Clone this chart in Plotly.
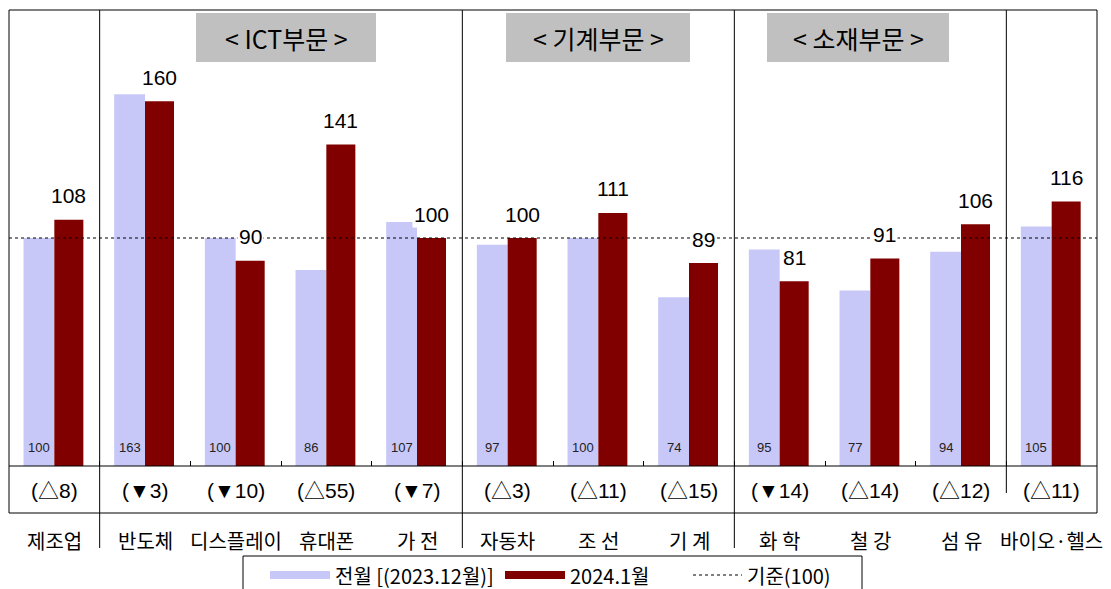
import plotly.graph_objects as go

# ---------------- data ----------------
categories = ["제조업", "반도체", "디스플레이", "휴대폰", "가 전", "자동차",
              "조 선", "기 계", "화 학", "철 강", "섬 유", "바이오·헬스"]
prev_values = [100, 163, 100, 86, 107, 97, 100, 74, 95, 77, 94, 105]   # 전월 (2023.12월)
curr_values = [108, 160, 90, 141, 100, 100, 111, 89, 81, 91, 106, 116]  # 2024.1월
change_labels = ["(△8)", "(▼3)", "(▼10)", "(△55)", "(▼7)", "(△3)",
                 "(△11)", "(△15)", "(▼14)", "(△14)", "(△12)", "(△11)"]
group_titles = ["< ICT부문 >", "< 기계부문 >", "< 소재부문 >"]
baseline_value = 100
legend_names = ["전월 [(2023.12월)]", "2024.1월", "기준(100)"]

# ---------------- style ----------------
# the page body has an 8px margin, so figure coordinates = page coordinates - 8
OFF = 8
W, H = 1111, 589
PLOT_L, PLOT_R, PLOT_T, PLOT_B = 9, 1097, 10, 466      # page pixels
L = PLOT_L - OFF
T = PLOT_T - OFF
R = W - (PLOT_R - OFF)
B = H - (PLOT_B - OFF)
PW, PH = PLOT_R - PLOT_L, PLOT_B - PLOT_T
LIGHT = "#c8c8f8"
DARK = "#800000"
GRAY = "#c0c0c0"
NUM_FONT = "Liberation Sans, Noto Sans CJK KR"
KR_FONT = "Noto Sans CJK KR, Liberation Sans"


def px_x(X):
    return (X - PLOT_L) / PW


def px_y(Y):
    return (PLOT_B - Y) / PH


fig = go.Figure()
fig.add_trace(go.Bar(x=categories, y=prev_values, name=legend_names[0],
                     marker=dict(color=LIGHT, line=dict(width=0)),
                     offset=-0.34, width=0.34, showlegend=False, hoverinfo="x+y"))
fig.add_trace(go.Bar(x=categories, y=curr_values, name=legend_names[1],
                     marker=dict(color=DARK, line=dict(width=0)),
                     offset=0.0, width=0.32, showlegend=False, hoverinfo="x+y"))

shapes = []
annotations = []

# baseline dotted line at 100
shapes.append(dict(type="line", xref="x", yref="y", x0=-0.5, x1=len(categories) - 0.5,
                   y0=baseline_value, y1=baseline_value,
                   line=dict(color="black", width=1, dash="dot"), layer="above"))

# outer frame (plot + table row) and table top line
tb = px_y(513)
shapes.append(dict(type="rect", xref="paper", yref="paper", x0=0, x1=1, y0=tb, y1=1,
                   line=dict(color="black", width=1), fillcolor="rgba(0,0,0,0)",
                   layer="above"))
shapes.append(dict(type="line", xref="paper", yref="paper", x0=0, x1=1, y0=0, y1=0,
                   line=dict(color="black", width=1), layer="above"))

# group separators
for bx, yend in [(0.5, px_y(548)), (4.5, px_y(548)), (7.5, px_y(548)), (10.5, px_y(493))]:
    shapes.append(dict(type="line", xref="x", yref="paper", x0=bx, x1=bx, y0=1, y1=yend,
                       line=dict(color="black", width=1)))

# group title boxes
for (x0, x1), title in zip([(196, 376), (506, 690), (767, 949)], group_titles):
    shapes.append(dict(type="rect", xref="paper", yref="paper",
                       x0=px_x(x0), x1=px_x(x1), y0=px_y(62), y1=px_y(13),
                       fillcolor=GRAY, line=dict(width=0), layer="above"))
    annotations.append(dict(xref="paper", yref="paper", x=px_x((x0 + x1) / 2), y=px_y(38),
                            text=title, showarrow=False, xanchor="center", yanchor="middle",
                            font=dict(family=KR_FONT, size=25, color="black")))

# value labels
for c, pv, cv, ch in zip(categories, prev_values, curr_values, change_labels):
    annotations.append(dict(x=c, y=cv, xref="x", yref="y", text=str(cv), showarrow=False,
                            xanchor="center", yanchor="middle", xshift=14.5, yshift=24,
                            bgcolor="white", borderpad=1,
                            font=dict(family=NUM_FONT, size=21, color="black")))
    annotations.append(dict(x=c, y=0, xref="x", yref="y", text=str(pv), showarrow=False,
                            xanchor="center", yanchor="middle", xshift=-15.5, yshift=19,
                            font=dict(family=NUM_FONT, size=13, color="#222222")))
    annotations.append(dict(x=c, y=px_y(490), xref="x", yref="paper", text=ch, showarrow=False,
                            xanchor="center", yanchor="middle",
                            font=dict(family=NUM_FONT, size=21, color="black")))
    annotations.append(dict(x=c, y=px_y(540), xref="x", yref="paper", text=c, showarrow=False,
                            xanchor="center", yanchor="middle",
                            font=dict(family=KR_FONT, size=20, color="black")))

# legend box
shapes.append(dict(type="rect", xref="paper", yref="paper", x0=px_x(243), x1=px_x(862),
                   y0=px_y(593), y1=px_y(556), line=dict(color="black", width=1),
                   fillcolor="white"))
ly = px_y(575)
shapes.append(dict(type="line", xref="paper", yref="paper", x0=px_x(270), x1=px_x(330),
                   y0=ly, y1=ly, line=dict(color=LIGHT, width=8)))
shapes.append(dict(type="line", xref="paper", yref="paper", x0=px_x(505), x1=px_x(565),
                   y0=ly, y1=ly, line=dict(color=DARK, width=8)))
shapes.append(dict(type="line", xref="paper", yref="paper", x0=px_x(693), x1=px_x(742),
                   y0=ly, y1=ly, line=dict(color="black", width=1, dash="dot")))
for tx, name in zip([333, 568, 745], legend_names):
    annotations.append(dict(xref="paper", yref="paper", x=px_x(tx), y=ly, text=name,
                            showarrow=False, xanchor="left", yanchor="middle",
                            font=dict(family=KR_FONT, size=20, color="black")))

fig.update_layout(
    width=W, height=H,
    margin=dict(l=L, r=R, t=T, b=B, pad=0),
    paper_bgcolor="white", plot_bgcolor="white",
    barmode="overlay",
    showlegend=False,
    shapes=shapes,
    annotations=annotations,
    xaxis=dict(type="category", range=[-0.5, len(categories) - 0.5], showgrid=False,
               showline=False,
               ticks="inside", tickson="boundaries", ticklen=5, tickcolor="black",
               showticklabels=False, fixedrange=True, zeroline=False),
    yaxis=dict(range=[0, 200], showgrid=False, zeroline=False, showline=False,
               ticks="", showticklabels=False, fixedrange=True),
)

fig.write_html("out.html")
